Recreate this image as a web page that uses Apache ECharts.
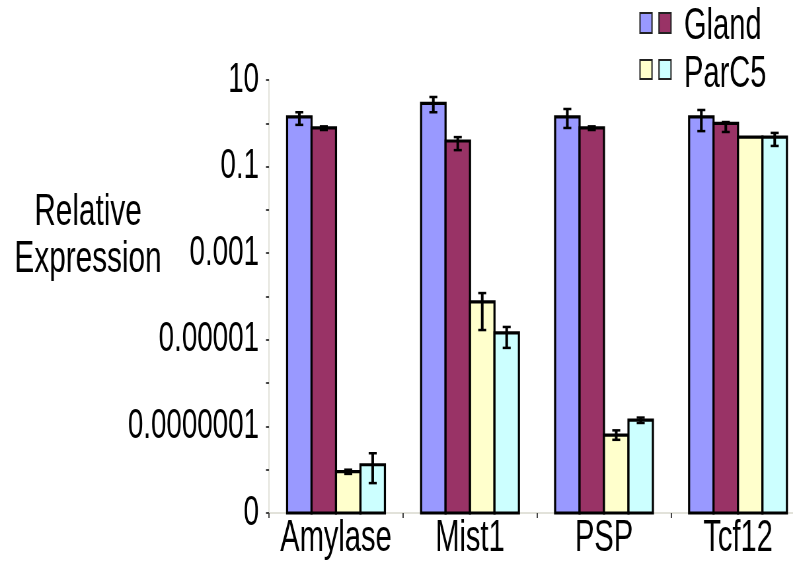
<!DOCTYPE html>
<html>
<head>
<meta charset="utf-8">
<script src="https://cdn.jsdelivr.net/npm/echarts@6/dist/echarts.min.js"></script>
<style>
html,body{margin:0;padding:0;background:#fff;overflow:hidden;}
#wrap{width:793px;height:565px;overflow:hidden;position:relative;}
#chart{width:1240px;height:565px;transform:scaleX(0.660833);transform-origin:0 0;position:absolute;left:0;top:0;}
</style>
</head>
<body>
<div id="wrap"><div id="chart"></div></div>
<script>
const categories = ['Amylase', 'Mist1', 'PSP', 'Tcf12'];
const glandBlue   = [1.4, 2.9, 1.4, 1.4];
const glandMaroon = [0.78, 0.39, 0.78, 1.0];
const parYellow   = [9e-9, 7.5e-5, 6.3e-8, 0.48];
const parCyan     = [1.3e-8, 1.45e-5, 1.4e-7, 0.48];

const blueLow    = [0.92, 1.8, 0.78, 0.66];
const blueHigh   = [1.8, 4.05, 2.14, 2.03];
const maroonLow  = [0.7, 0.24, 0.7, 0.63];
const maroonHigh = [0.85, 0.48, 0.85, 1.07];
const yellowLow  = [8e-9, 1.68e-5, 4.9e-8, 0.48];
const yellowHigh = [1e-8, 1.2e-4, 8.1e-8, 0.48];
const cyanLow    = [4.9e-9, 6.5e-6, 1.2e-7, 0.30];
const cyanHigh   = [2.4e-8, 1.98e-5, 1.6e-7, 0.60];

const yTickExps   = [-9, -7, -5, -3, -1, 1];
const yTickLabels = ['0', '0.0000001', '0.00001', '0.001', '0.1', '10'];
const yMin = 1e-9, yMax = 10;

const legendNames = ['Gland', 'ParC5'];
const yAxisTitle = 'Relative\nExpression';

// horizontal compression factor of the page (text in the reference is condensed)
const S = 0.660833;
const X = v => v / S;
const CW = 1240;

const FONT = '"Liberation Sans", Arial, sans-serif';
const COLORS = ['#9999FF', '#993366', '#FFFFCC', '#CCFFFF'];
const GAP = 0.27;

const seriesVals = [glandBlue, glandMaroon, parYellow, parCyan];
const lows = [blueLow, maroonLow, yellowLow, cyanLow];
const highs = [blueHigh, maroonHigh, yellowHigh, cyanHigh];

const barData = [];
const errData = [];
for (let s = 0; s < 4; s++) {
  for (let c = 0; c < categories.length; c++) {
    barData.push([c, seriesVals[s][c], s]);
    errData.push([c, lows[s][c], highs[s][c], s]);
  }
}

const barSeries = {
  type: 'custom',
  silent: true,
  z: 5,
  data: barData,
  encode: { x: 0, y: 1 },
  renderItem: function (params, api) {
    const c = api.value(0), v = api.value(1), s = api.value(2);
    const band = api.size([1, 0])[0];
    const bw = band * (1 - GAP) / 4;
    const base = api.coord([c, yMin]);
    const top = api.coord([c, v]);
    const x0 = base[0] + (s - 2) * bw;
    return {
      type: 'rect',
      shape: { x: x0, y: top[1], width: bw, height: base[1] - top[1] },
      style: { fill: COLORS[s], stroke: '#000', lineWidth: 3.2 }
    };
  }
};

const errSeries = {
  type: 'custom',
  silent: true,
  z: 10,
  data: errData,
  encode: { x: 0, y: [1, 2] },
  renderItem: function (params, api) {
    const c = api.value(0), lo = api.value(1), hi = api.value(2), s = api.value(3);
    if (hi <= lo) return null;
    const band = api.size([1, 0])[0];
    const bw = band * (1 - GAP) / 4;
    const pLo = api.coord([c, lo]);
    const pHi = api.coord([c, hi]);
    const x = pLo[0] + (s - 1.5) * bw;
    const cap = X(4);
    return {
      type: 'group',
      children: [
        { type: 'line', shape: { x1: x, y1: pHi[1], x2: x, y2: pLo[1] }, style: { stroke: '#000', lineWidth: 4 } },
        { type: 'line', shape: { x1: x - cap, y1: pHi[1], x2: x + cap, y2: pHi[1] }, style: { stroke: '#000', lineWidth: 2.5 } },
        { type: 'line', shape: { x1: x - cap, y1: pLo[1], x2: x + cap, y2: pLo[1] }, style: { stroke: '#000', lineWidth: 2.5 } }
      ]
    };
  }
};

const chart = echarts.init(document.getElementById('chart'), null, { width: CW, height: 565 });
chart.setOption({
  backgroundColor: '#fff',
  animation: false,
  grid: { left: X(269), top: 80, width: X(536), height: 433, containLabel: false, outerBoundsMode: 'none' },
  xAxis: {
    type: 'category',
    data: categories,
    axisLine: { lineStyle: { color: '#e2e2da', width: 2 } },
    axisTick: { show: true, length: 5, lineStyle: { color: '#444', width: 2 } },
    axisLabel: { color: '#000', fontFamily: FONT, fontSize: 44, margin: 4, interval: 0 },
    splitLine: { show: false }
  },
  yAxis: {
    type: 'log',
    logBase: 10,
    min: yMin,
    max: yMax,
    splitNumber: 10,
    axisLine: { show: true, lineStyle: { color: '#e2e2da', width: 2 } },
    axisTick: { show: true, length: X(3), lineStyle: { color: '#444', width: 2 } },
    splitLine: { show: false },
    axisLabel: {
      color: '#000', fontFamily: FONT, fontSize: 42, margin: X(10),
      showMinLabel: true, showMaxLabel: true,
      formatter: function (v) {
        const e = Math.round(Math.log10(v));
        const i = yTickExps.indexOf(e);
        return i >= 0 ? yTickLabels[i] : '';
      }
    }
  },
  graphic: [
    { type: 'text', x: X(88), y: 189, style: { text: yAxisTitle, fill: '#000', font: '45px ' + FONT, textAlign: 'center', textVerticalAlign: 'top', lineHeight: 47 } },
    { type: 'rect', shape: { x: X(640), y: 13, width: X(12), height: 20 }, style: { fill: COLORS[0], stroke: '#222', lineWidth: 2 } },
    { type: 'rect', shape: { x: X(659), y: 13, width: X(12), height: 20 }, style: { fill: COLORS[1], stroke: '#222', lineWidth: 2 } },
    { type: 'text', x: X(684), y: 27, style: { text: legendNames[0], fill: '#000', font: '44px ' + FONT, textVerticalAlign: 'middle' } },
    { type: 'rect', shape: { x: X(640), y: 60, width: X(12), height: 19 }, style: { fill: COLORS[2], stroke: '#222', lineWidth: 2 } },
    { type: 'rect', shape: { x: X(659), y: 60, width: X(12), height: 19 }, style: { fill: COLORS[3], stroke: '#222', lineWidth: 2 } },
    { type: 'text', x: X(684), y: 75, style: { text: legendNames[1], fill: '#000', font: '44px ' + FONT, textVerticalAlign: 'middle' } }
  ],
  series: [barSeries, errSeries]
});
</script>
</body>
</html>
